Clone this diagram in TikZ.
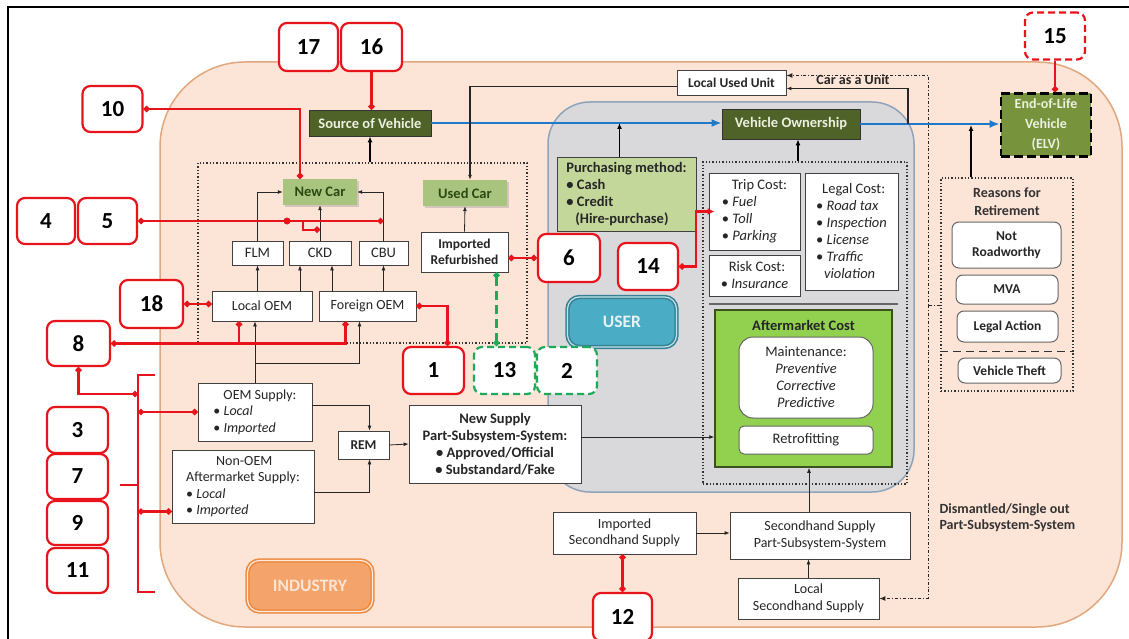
\documentclass[tikz,border=0pt]{standalone}
\usepackage{fontspec}
\setmainfont{Carlito}
\usetikzlibrary{arrows.meta,positioning,calc,shadows}

\definecolor{peach}{HTML}{FCE4D6}
\definecolor{peachline}{HTML}{E2A77C}
\definecolor{usergray}{HTML}{D9D9DB}
\definecolor{userline}{HTML}{8FA3BA}
\definecolor{olivedark}{HTML}{4F6228}
\definecolor{olivemid}{HTML}{77933C}
\definecolor{palegreen}{HTML}{EBF1DE}
\definecolor{cargreen}{HTML}{A9C47F}
\definecolor{cartext}{HTML}{2A4A12}
\definecolor{purchgreen}{HTML}{C4D79B}
\definecolor{brightgreen}{HTML}{92D050}
\definecolor{aftline}{HTML}{3B5220}
\definecolor{tagred}{HTML}{E8141B}
\definecolor{taggreen}{HTML}{1FAA5A}
\definecolor{flowblue}{HTML}{1F78C8}
\definecolor{userblue}{HTML}{4BACC6}
\definecolor{indorange}{HTML}{F4A46A}
\definecolor{indline}{HTML}{EE8A40}

\newcommand\txtn{\fontsize{14}{16.5}\selectfont}
\newcommand\txtb{\fontsize{14.5}{17}\selectfont\bfseries}
\newcommand\txtsb{\fontsize{13.5}{16}\selectfont\bfseries}
\newcommand\txtl{\fontsize{14.5}{17}\selectfont}
\newcommand\txtnum{\fontsize{23}{25}\selectfont\bfseries}

\tikzset{
  box/.style={draw=black!75, fill=white, align=center, inner sep=1pt, font=\txtn, text=black!85, line width=0.8pt},
  bbox/.style={box, font=\txtb},
  darkbox/.style={draw=black!80, fill=olivedark, text=palegreen, font=\txtb, line width=0.8pt, align=center},
  carbox/.style={fill=cargreen, text=cartext, font=\txtb, drop shadow={opacity=0.3, shadow xshift=2pt, shadow yshift=-2pt}},
  rbox/.style={box, rounded corners=7pt, draw=black!60, line width=1pt, font=\txtsb},
  dotbox/.style={draw=black!80, dotted, line width=1.3pt},
  numtag/.style={draw=tagred, line width=2.2pt, fill=white, rounded corners=8pt, font=\txtnum, inner sep=0pt, minimum width=60pt, minimum height=47pt},
  gnumtag/.style={numtag, draw=taggreen, dash pattern=on 7pt off 4pt},
  badge/.style={rounded corners=12pt, font=\fontsize{17.5}{20}\selectfont\bfseries, inner sep=0pt, double distance=1.2pt, line width=1.6pt},
  arr/.style={-{Latex[length=5pt,width=4pt]}, black!85, line width=0.8pt},
  bigarr/.style={-{Latex[length=6pt,width=5pt]}, black, line width=1.8pt},
  bluearr/.style={-{Latex[length=10pt,width=8pt]}, flowblue, line width=2.6pt},
  redline/.style={tagred, line width=2.2pt, {Circle[length=6pt]}-{Circle[length=6pt]}},
  greenline/.style={taggreen, line width=2.2pt, dash pattern=on 9pt off 5pt, {Circle[length=6pt]}-{Circle[length=6pt]}},
  ddline/.style={black!85, line width=0.9pt, dashdotted},
}

\begin{document}
\begin{tikzpicture}[x=1pt, y=-1pt]
  \useasboundingbox (0,0) rectangle (1129,639);
  \draw[line width=2pt] (8,639) -- (8,7) -- (1129,7);

  % areas
  \draw[peachline, fill=peach, line width=1.5pt, rounded corners=85pt] (160,62) rectangle (1122,627);
  \draw[userline, fill=usergray, line width=1.5pt, rounded corners=42pt] (548,102) rectangle (914,492);
  \node[badge, draw=indline, double=peach!70, fill=indorange, text=peach, minimum width=125pt, minimum height=51pt] (industry) at (310,586) {INDUSTRY};
  \node[badge, draw=userblue!75!black, double=userblue!35, fill=userblue, text=white!85!userblue, minimum width=109pt, minimum height=50pt] (user) at (622,322) {USER};

  % vehicle flow
  \node[darkbox, minimum width=122pt, minimum height=26pt] (src) at (370,123) {Source of Vehicle};
  \node[darkbox, minimum width=138pt, minimum height=30pt] (own) at (791,124) {Vehicle Ownership};
  \node[darkbox, fill=olivemid, draw=black, line width=2.6pt, dash pattern=on 9pt off 4pt, font=\fontsize{14}{20}\selectfont\bfseries, minimum width=90pt, minimum height=63pt] (elv) at (1046,125) {End-of-Life\\Vehicle\\(ELV)};
  \draw[bluearr] (src.east) -- (src.east -| own.west);
  \draw[bluearr] (own.east) -- (own.east -| elv.west);

  % industry side
  \node[dotbox, minimum width=329pt, minimum height=180pt] (prod) at (362.5,253) {};
  \node[carbox, minimum width=74pt, minimum height=26pt] (newcar) at (320,192) {New Car};
  \node[carbox, minimum width=84pt, minimum height=26pt] (usedcar) at (465,193) {Used Car};
  \node[box, font=\txtl, minimum width=51pt, minimum height=24pt] (flm) at (257.5,253) {FLM};
  \node[box, font=\txtl, minimum width=62pt, minimum height=24pt] (ckd) at (320,253) {CKD};
  \node[box, font=\txtl, minimum width=49pt, minimum height=24pt] (cbu) at (383.5,253) {CBU};
  \node[box, minimum width=100pt, minimum height=30pt] (localoem) at (262,306) {Local OEM};
  \node[box, minimum width=97pt, minimum height=30pt] (foreignoem) at (367.5,306) {Foreign OEM};
  \node[bbox, font=\txtsb, minimum width=87pt, minimum height=40pt] (refurb) at (464.5,252) {Imported\\Refurbished};
  \node[bbox, font=\txtsb, minimum width=109pt, minimum height=25pt] (localused) at (731.5,82.5) {Local Used Unit};

  \node[box, align=left, minimum width=114pt, minimum height=58pt] (oemsup) at (255,412) {\hspace*{10pt}OEM Supply:\\\textbullet\ \textit{Local}\\\textbullet\ \textit{Imported}};
  \node[box, align=left, minimum width=142pt, minimum height=73pt] (nonoem) at (243,486.5) {\hspace*{30pt}Non-OEM\\Aftermarket Supply:\\\textbullet\ \textit{Local}\\\textbullet\ \textit{Imported}};
  \node[bbox, font=\txtsb, minimum width=51pt, minimum height=28pt] (rem) at (363.5,445) {REM};
  \node[bbox, minimum width=172pt, minimum height=78pt] (newsup) at (495,444) {New Supply\\Part-Subsystem-System:\\\textbullet\ Approved/Official\\\textbullet\ Substandard/Fake};
  \node[box, minimum width=143pt, minimum height=42pt] (impsh) at (624.5,533) {Imported\\Secondhand Supply};
  \node[box, minimum width=180pt, minimum height=47pt] (shsup) at (820,535.5) {Secondhand Supply\\Part-Subsystem-System};
  \node[box, minimum width=141pt, minimum height=41pt] (localsh) at (808.5,598.5) {Local\\Secondhand Supply};

  % user side
  \node[box, fill=purchgreen, font=\txtb, align=left, minimum width=139pt, minimum height=74pt] (purch) at (626.5,194) {Purchasing method:\\\textbullet\ Cash\\\textbullet\ Credit\\\hspace*{9pt}(Hire-purchase)};
  \node[dotbox, minimum width=204pt, minimum height=322pt] (cost) at (805,323) {};
  \node[box, font=\txtl, align=left, minimum width=91pt, minimum height=77pt] (trip) at (754.5,211.5) {\hspace*{10pt}Trip Cost:\\\textbullet\ \textit{Fuel}\\\textbullet\ \textit{Toll}\\\textbullet\ \textit{Parking}};
  \node[box, font=\txtl, align=left, minimum width=93pt, minimum height=117pt] (legal) at (851.5,231.5) {\hspace*{6pt}Legal Cost:\\\textbullet\ \textit{Road tax}\\\textbullet\ \textit{Inspection}\\\textbullet\ \textit{License}\\\textbullet\ \textit{Traffic}\\\hspace*{8pt}\textit{violation}};
  \node[box, font=\txtl, align=left, minimum width=91pt, minimum height=41pt] (risk) at (754.5,275.5) {\hspace*{8pt}Risk Cost:\\\textbullet\ \textit{Insurance}};
  \draw[black!60, line width=2pt] ($(risk.south west)+(0,8)$) -- ($(risk.south west -| legal.east)+(0,8)$);
  \node[draw=aftline, line width=1.5pt, fill=brightgreen, minimum width=177pt, minimum height=157pt] (after) at (803.5,388.5) {};
  \node[font=\txtb, text=black!85] (aftertitle) at (803.5,325) {Aftermarket Cost};
  \node[box, rounded corners=14pt, draw=black!60, line width=1pt, font=\txtl, minimum width=134pt, minimum height=81pt] (maint) at (806,377.5) {Maintenance:\\\textit{Preventive}\\\textit{Corrective}\\\textit{Predictive}};
  \node[box, rounded corners=5pt, draw=black!60, line width=1pt, font=\txtl, minimum width=134pt, minimum height=28pt] (retro) at (806,440) {Retrofitting};

  % retirement
  \node[dotbox, minimum width=132pt, minimum height=213pt] (reasons) at (1007,284.5) {};
  \node[font=\fontsize{14}{18}\selectfont\bfseries, align=center, text=black!80] (reasonstitle) at (1007,202) {Reasons for\\Retirement};
  \node[rbox, minimum width=109pt, minimum height=46pt] (notroad) at (1006.5,245) {Not\\Roadworthy};
  \node[rbox, minimum width=102pt, minimum height=29pt] (mva) at (1007,289.5) {MVA};
  \node[rbox, minimum width=101pt, minimum height=31pt] (legalact) at (1007.5,326.5) {Legal Action};
  \draw[black!80, line width=1.5pt, dash pattern=on 8pt off 5pt] ($(legalact.south -| reasons.west)+(0,9)$) -- ($(legalact.south -| reasons.east)+(0,9)$);
  \node[rbox, minimum width=103pt, minimum height=25pt] (theft) at (1009.5,370.5) {Vehicle Theft};
  \node[font=\fontsize{14}{16}\selectfont\bfseries, text=black!80, align=left, anchor=west] (dism) at (936,518) {Dismantled/Single out\\Part-Subsystem-System};

  % connectors
  \draw[bigarr] (src.south |- prod.north) -- (src.south);
  \coordinate (ptop) at ($(purch.north)+(-7,0)$);
  \draw[bigarr] (ptop) -- (ptop |- src.east);
  \coordinate (ctop) at ($(cost.north)+(-7,0)$);
  \draw[bigarr] (ctop) -- (ctop |- own.south);
  \coordinate (rtop) at ($(reasons.north)+(-36,0)$);
  \draw[bigarr] (rtop) -- (rtop |- elv.west);

  \draw[arr] (flm.north) |- (newcar.west);
  \draw[arr] (ckd.north) -- (newcar.south);
  \draw[arr] (cbu.north) |- (newcar.east);
  \draw[arr] (flm.south |- localoem.north) -- (flm.south);
  \draw[arr] ($(ckd.south |- localoem.north)+(-20,0)$) -- ($(ckd.south)+(-20,0)$);
  \draw[arr] ($(ckd.south |- foreignoem.north)+(12,0)$) -- ($(ckd.south)+(12,0)$);
  \draw[arr] (cbu.south |- foreignoem.north) -- (cbu.south);
  \draw[arr] (refurb.north) -- (usedcar.south);
  \draw[arr, line width=1.2pt] ($(localused.west)+(0,4)$) -| ($(usedcar.north)+(5,0)$);
  \coordinate (split) at (908,124);
  \draw[arr, line width=1.2pt] (split) |- ($(localused.east)+(0,6)$);
  \coordinate (dd) at (928,305);
  \draw[ddline, -{Latex[length=6pt,width=5pt]}] (reasons.west |- dd) -- (dd) |- ($(localused.east)+(0,-7)$);
  \draw[ddline, -{Latex[length=6pt,width=5pt]}] (dd) |- (localsh.east);
  \node[font=\fontsize{14}{16}\selectfont\bfseries, text=black!85] (carunit) at (853,80) {Car as a Unit};

  \draw[arr] (oemsup.north) -- (oemsup.north |- localoem.south);
  \draw[arr] ($(oemsup.north)+(0,-19)$) -| ($(foreignoem.south)+(-8,0)$);
  \draw[arr] ($(oemsup.east)+(0,-7)$) -| ($(rem.north)+(6,0)$);
  \draw[arr] ($(nonoem.east)+(0,6)$) -| ($(rem.south)+(6,0)$);
  \draw[arr] (rem.east) -- (newsup.west);
  \coordinate (nsout) at ($(newsup.east)+(0,-7)$);
  \draw[arr] (nsout) -- (nsout -| after.west);
  \draw[arr] (impsh.east) -- (impsh.east -| shsup.west);
  \draw[arr] (localsh.north) -- (localsh.north |- shsup.south);
  \coordinate (shtop) at ($(shsup.north)+(-11,0)$);
  \draw[arr] (shtop) -- (shtop |- after.south);

  % numbered tags
  \node[numtag, minimum width=59pt, minimum height=48pt] (t17) at (308.5,47) {17};
  \node[numtag, minimum width=61pt, minimum height=48pt] (t16) at (371.5,47) {16};
  \node[numtag, draw=tagred, dash pattern=on 7pt off 4pt] (t15) at (1055,36) {15};
  \node[numtag, minimum height=46pt] (t10) at (112.5,109) {10};
  \node[numtag, minimum width=58pt, minimum height=46pt] (t4) at (46,221) {4};
  \node[numtag, minimum width=59pt, minimum height=46pt] (t5) at (107.5,221) {5};
  \node[numtag, minimum width=63pt, minimum height=48pt] (t18) at (151.5,304) {18};
  \node[numtag, minimum width=63pt, minimum height=45pt] (t8) at (78.5,343.5) {8};
  \node[numtag, minimum width=61pt] (t1) at (433.5,370.5) {1};
  \node[gnumtag, minimum width=61pt] (t13) at (504.5,370.5) {13};
  \node[gnumtag] (t2) at (567,370.5) {2};
  \node[numtag, minimum width=62pt, minimum height=48pt] (t6) at (569,258) {6};
  \node[numtag] (t14) at (648,266.5) {14};
  \node[numtag, minimum width=61pt, minimum height=46pt] (t3) at (77.5,430) {3};
  \node[numtag, minimum width=61pt, minimum height=45pt] (t7) at (77.5,476.5) {7};
  \node[numtag, minimum width=61pt, minimum height=44pt] (t9) at (77.5,523) {9};
  \node[numtag, minimum width=61pt, minimum height=45pt] (t11) at (77.5,570.5) {11};
  \node[numtag, minimum width=59pt, minimum height=48pt] (t12) at (622.5,617) {12};

  % tag links
  \draw[redline, -{Circle[length=6pt]}] (t16.south) -- (t16.south |- src.north);
  \draw[redline, -{Circle[length=6pt]}] (t15.south) -- (t15.south |- elv.north);
  \draw[redline] (t10.east) -| ($(newcar.north)+(-20,0)$);
  \draw[redline] (t5.east) -- (cbu.north |- t5.east);
  \fill[tagred] ($(ckd.north |- t5.east)+(-33,0)$) circle (3.5pt);
  \draw[tagred, line width=2.2pt, -{Circle[length=6pt]}] ($(ckd.north |- t5.east)+(-17,0)$) |- ($(ckd.north)+(0,-11)$);
  \draw[redline] (t18.east) -- (t18.east -| localoem.west);
  \draw[redline] (t8.east) -| ($(foreignoem.south)+(-22,0)$);
  \coordinate (l8) at ($(localoem.south)+(-23,0)$);
  \draw[tagred, line width=2.2pt, -{Circle[length=6pt]}] (l8 |- t8.east) -- (l8);
  \draw[redline] (foreignoem.east) -| ($(t1.north)+(14,0)$);
  \coordinate (g13) at ($(refurb.south)+(32,0)$);
  \draw[greenline] (g13) -- (g13 |- t13.north);
  \draw[redline] (t6.west) -- (t6.west -| refurb.east);
  \draw[tagred, line width=2.2pt, {Circle[length=6pt]}-{Latex[length=7pt,width=7pt]}] (t14.east) -- ++(17,0) |- ($(trip.west)+(6,0)$);
  \draw[redline] (t12.north) -- (t12.north |- impsh.south);

  % bracket for 3, 7, 9, 11
  \coordinate (brt) at (138,375);
  \coordinate (brb) at (138,592);
  \draw[tagred, line width=2.2pt] ($(brt)+(17,0)$) -- (brt) -- (brb) -- ($(brb)+(17,0)$);
  \draw[tagred, line width=2.2pt] ($(t7.east)+(11,8.5)$) -- ($(t7.east -| brt)+(0,8.5)$);
  \draw[redline] (t8.south) |- ($(brt)+(0,19)$);
  \draw[redline] (oemsup.west -| brt) -- (oemsup.west);
  \coordinate (nonin) at ($(nonoem.west)+(0,25)$);
  \draw[redline] (nonin -| brt) -- (nonin);
\end{tikzpicture}
\end{document}
